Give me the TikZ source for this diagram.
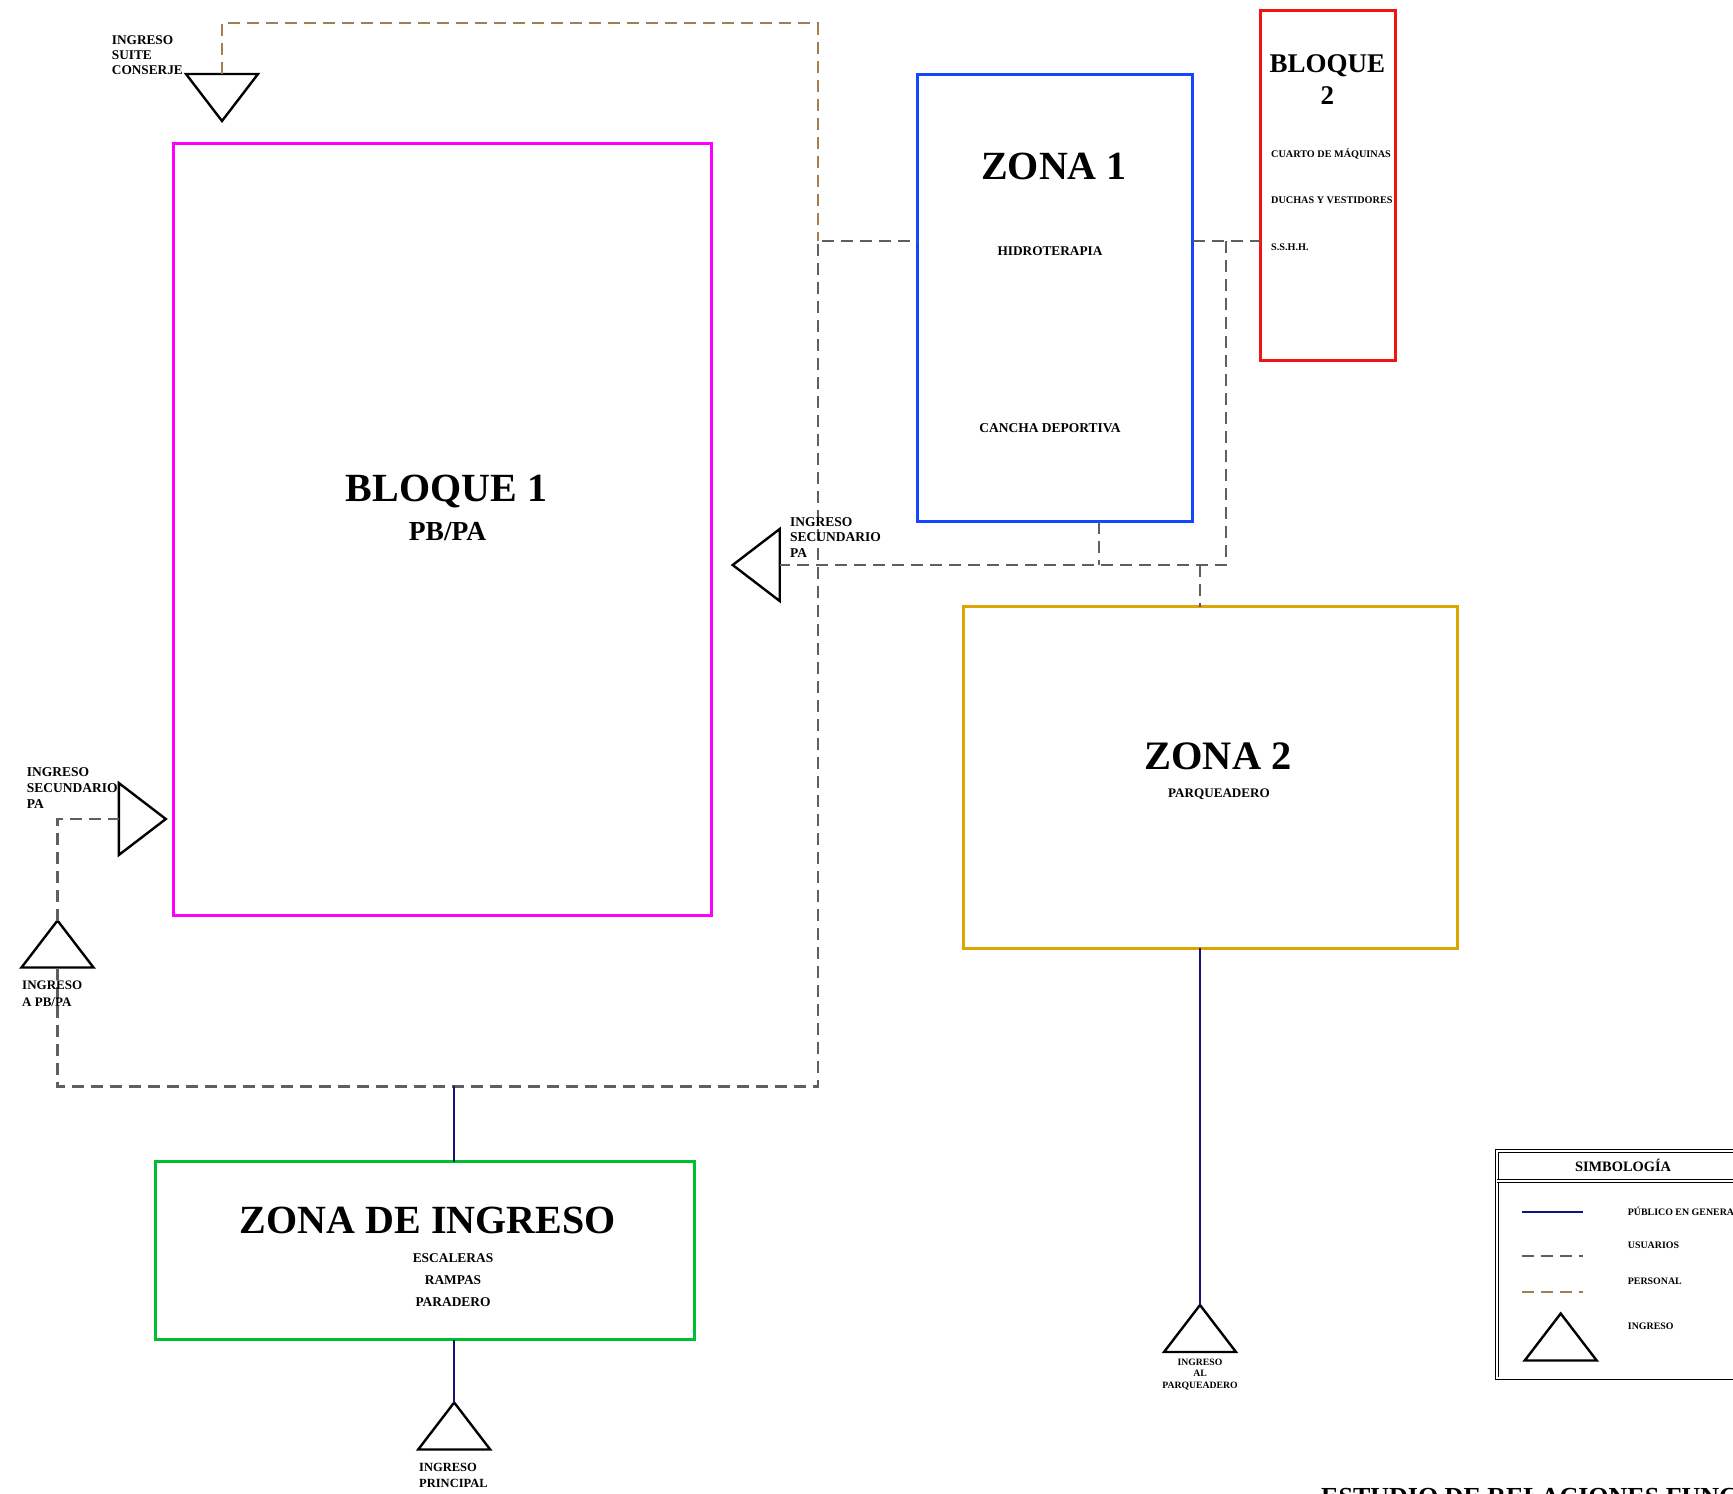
\documentclass[tikz,border=0pt]{standalone}
\usepackage{fontspec}
\setmainfont{Liberation Serif}
\usetikzlibrary{positioning}

\definecolor{rosa}{RGB}{255,0,255}
\definecolor{azul}{RGB}{20,70,255}
\definecolor{rojo}{RGB}{240,20,20}
\definecolor{ocre}{RGB}{222,165,0}
\definecolor{verde}{RGB}{0,190,50}
\definecolor{gris}{RGB}{95,95,95}
\definecolor{cafe}{RGB}{165,125,85}
\definecolor{marino}{RGB}{20,20,120}

\tikzset{
  ingreso/.pic={
    \draw[tri] (0,0) -- (-36,47) -- (36,47) -- cycle;
    \coordinate (-apex) at (0,0);
    \coordinate (-base) at (0,47);
  }
}

\begin{document}
\begin{tikzpicture}[x=1pt, y=-1pt,
    zona/.style={draw, line width=3pt, inner sep=0pt, outer sep=0pt},
    usuarios/.style={gris, line width=2.3pt, dash pattern=on 12pt off 7pt},
    personal/.style={cafe, line width=2.3pt, dash pattern=on 12pt off 7pt},
    publico/.style={marino, line width=2.3pt},
    tri/.style={black, line width=2.4pt},
    rotulo/.style={inner sep=0pt, text depth=0pt, font=\bfseries\fontsize{#1}{#1}\selectfont},
    bloquetxt/.style={inner sep=0pt, align=#1, font=\bfseries\fontsize{13.4}{15.5}\selectfont}
]
\useasboundingbox (0,0) rectangle (1733,1494);

% Zonas
\node[zona, rosa,  minimum width=538.2pt, minimum height=771.4pt] (bloque1) at (442.6,529.4) {};
\node[zona, azul,  minimum width=275.2pt, minimum height=447.6pt] (zona1) at (1054.9,297.8) {};
\node[zona, rojo,  minimum width=135.9pt, minimum height=350.3pt] (bloque2) at (1328,185.2) {};
\node[zona, ocre,  minimum width=494.1pt, minimum height=341.5pt] (zona2) at (1210.8,777.6) {};
\node[zona, verde, minimum width=538.2pt, minimum height=177.9pt] (zingreso) at (424.9,1250.6) {};

% Ingresos
\pic[rotate=180] (tsuite) at (222,121) {ingreso};
\pic[rotate=-90] (tsecpa) at (165.8,819) {ingreso};
\pic (tpbpa) at (57.5,920.5) {ingreso};
\pic[rotate=90] (tseczona) at (732.7,565) {ingreso};
\pic (tprin) at (454.2,1402.5) {ingreso};
\pic (tparq) at (1200,1305) {ingreso};

% Puntos de los recorridos
\coordinate (esqPers) at (817.8,23.2);
\coordinate (esqSup) at (817.8,241);
\coordinate (esqInf) at (57.5,1086.4);
\coordinate (nudoDer) at (1226.2,565);
\coordinate (baja1) at (1099.3,565);
\coordinate (eje2) at (1200,565);
\coordinate (ejeP) at (454.2,1086.4);

% Usuarios
\draw[usuarios] (tpbpa-base) -- (esqInf) -| (esqSup) -- (esqSup -| zona1.west);
\draw[usuarios] (tpbpa-apex) |- (tsecpa-base);
\draw[usuarios] (esqSup -| zona1.east) -- (esqSup -| bloque2.west);
\draw[usuarios] (nudoDer |- esqSup) -- (nudoDer) -- (tseczona-base);
\draw[usuarios] (baja1 |- zona1.south) -- (baja1);
\draw[usuarios] (eje2) -- (eje2 |- zona2.north);

% Personal
\draw[personal] (tsuite-base) |- (esqPers) -- (esqSup);

% Publico en general
\draw[publico] (ejeP) -- (ejeP |- zingreso.north);
\draw[publico] (ejeP |- zingreso.south) -- (tprin-apex);
\draw[publico] (eje2 |- zona2.south) -- (tparq-apex);

% Textos de las zonas
\node[rotulo=40] (tb1) at (446.5,488.5) {BLOQUE 1};
\node[rotulo=27.5] (tb1b) at (447.6,531.6) {PB/PA};
\node[inner sep=0pt, anchor=north, align=center, font=\bfseries\fontsize{27}{32}\selectfont] (tb2) at (1327.4,54) {BLOQUE\\2};
\node[rotulo=10.2, anchor=west] (tb2a) at (1271,153.6) {CUARTO DE MÁQUINAS};
\node[rotulo=10.2, anchor=west] (tb2b) at (1271,200) {DUCHAS Y VESTIDORES};
\node[rotulo=10.2, anchor=west] (tb2c) at (1271,247.6) {S.S.H.H.};
\node[rotulo=40] (tz1) at (1054,165.8) {ZONA 1};
\node[rotulo=13.3] (tz1a) at (1050,250.9) {HIDROTERAPIA};
\node[rotulo=13.5] (tz1b) at (1050,427.7) {CANCHA DEPORTIVA};
\node[rotulo=40.4] (tz2) at (1218,756) {ZONA 2};
\node[rotulo=13.1] (tz2a) at (1219,793.5) {PARQUEADERO};
\node[rotulo=40] (tzi) at (427.7,1220) {ZONA DE INGRESO};
\node[bloquetxt=center, anchor=north, font=\bfseries\fontsize{13.4}{22}\selectfont] (tzia) at (453,1253.3) {ESCALERAS\\RAMPAS\\PARADERO};

% Textos de los ingresos
\node[bloquetxt=left, anchor=north west, font=\bfseries\fontsize{13.3}{15}\selectfont] (lsuite) at (111.7,35.6) {INGRESO\\SUITE\\CONSERJE};
\node[bloquetxt=left, anchor=north west, font=\bfseries\fontsize{13.5}{16}\selectfont] (lsecpa) at (26.7,767.2) {INGRESO\\SECUNDARIO\\PA};
\node[bloquetxt=left, anchor=north west, font=\bfseries\fontsize{13}{17}\selectfont] (lpbpa) at (22,980.7) {INGRESO\\A PB/PA};
\node[bloquetxt=left, anchor=north west, font=\bfseries\fontsize{13.5}{15.6}\selectfont] (lseczona) at (790,517.2) {INGRESO\\SECUNDARIO\\PA};
\node[bloquetxt=left, anchor=north west, font=\bfseries\fontsize{12.5}{16.3}\selectfont] (lprin) at (419,1462.6) {INGRESO\\PRINCIPAL};
\node[bloquetxt=center, anchor=north, font=\bfseries\fontsize{9.7}{11.7}\selectfont] (lparq) at (1200,1358.5) {INGRESO\\AL\\PARQUEADERO};

% Simbologia
\draw[line width=0.9pt, double, double distance=1.8pt] (1496.7,1150.7) rectangle (1770,1378.3);
\draw[line width=0.9pt, double, double distance=1.8pt] (1496.7,1180.7) -- (1770,1180.7);
\node[rotulo=14.4, anchor=base] (tsimb) at (1623,1171.5) {SIMBOLOGÍA};
\draw[publico] (1521.7,1211.7) -- (1582.7,1211.7);
\draw[usuarios] (1521.7,1256) -- (1582.7,1256);
\draw[personal] (1521.7,1292) -- (1582.7,1292);
\pic (tsimbolo) at (1560.7,1313.5) {ingreso};
\node[rotulo=9.9, anchor=base west] (spub) at (1627.7,1215) {PÚBLICO EN GENERAL};
\node[rotulo=9.9, anchor=west] (susu) at (1627.7,1245) {USUARIOS};
\node[rotulo=9.9, anchor=west] (sper) at (1627.7,1281.7) {PERSONAL};
\node[rotulo=9.9, anchor=west] (sing) at (1627.7,1326.7) {INGRESO};

% Titulo
\node[inner sep=0pt, anchor=north west, font=\bfseries\fontsize{26}{26}\selectfont] (titulo) at (1321,1488) {ESTUDIO DE RELACIONES FUNCIONALES};
\end{tikzpicture}
\end{document}
